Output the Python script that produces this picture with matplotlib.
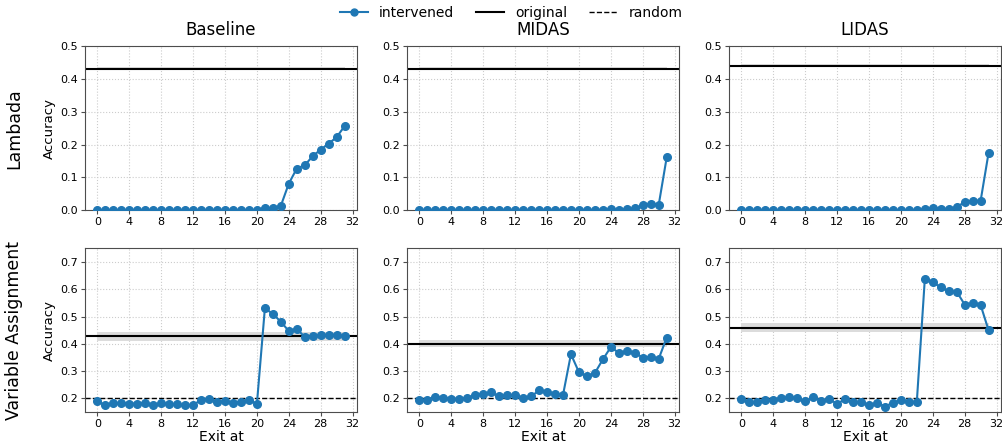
import matplotlib
matplotlib.use("Agg")
import matplotlib.pyplot as plt
import numpy as np

# exit layers 0..31
layers = np.arange(32)

methods = ["Baseline", "MIDAS", "LIDAS"]
tasks = ["Lambada", "Variable Assignment"]

# Lambada accuracy when exiting at each layer
lambada_baseline = [0, 0, 0, 0, 0, 0, 0, 0, 0, 0, 0, 0, 0, 0, 0, 0,
                    0, 0, 0, 0, 0, 0.007, 0.006, 0.013, 0.081, 0.127, 0.137, 0.165,
                    0.185, 0.203, 0.223, 0.257]
lambada_midas = [0, 0, 0, 0, 0, 0, 0, 0, 0, 0, 0, 0, 0, 0, 0, 0,
                 0, 0, 0, 0, 0, 0, 0, 0.001, 0.002, 0.001, 0.002, 0.005,
                 0.015, 0.019, 0.016, 0.161]
lambada_lidas = [0, 0, 0, 0, 0, 0, 0, 0, 0, 0, 0, 0, 0, 0, 0, 0,
                 0, 0, 0, 0, 0, 0, 0, 0.002, 0.007, 0.004, 0.004, 0.009,
                 0.025, 0.028, 0.029, 0.176]

# Variable assignment accuracy when exiting at each layer
varassign_baseline = [0.190, 0.174, 0.182, 0.183, 0.181, 0.181, 0.183, 0.174,
                      0.183, 0.179, 0.178, 0.174, 0.175, 0.195, 0.198, 0.187,
                      0.189, 0.184, 0.188, 0.195, 0.179, 0.530, 0.510, 0.481,
                      0.447, 0.455, 0.425, 0.427, 0.432, 0.434, 0.433, 0.428]
varassign_midas = [0.193, 0.195, 0.206, 0.201, 0.199, 0.197, 0.202, 0.213,
                   0.216, 0.222, 0.207, 0.213, 0.212, 0.200, 0.207, 0.229,
                   0.224, 0.216, 0.212, 0.362, 0.296, 0.281, 0.293, 0.343,
                   0.388, 0.367, 0.373, 0.368, 0.349, 0.353, 0.345, 0.423]
varassign_lidas = [0.196, 0.187, 0.187, 0.194, 0.194, 0.201, 0.204, 0.201,
                   0.189, 0.204, 0.192, 0.196, 0.181, 0.196, 0.187, 0.188,
                   0.174, 0.184, 0.170, 0.184, 0.194, 0.188, 0.188, 0.637,
                   0.625, 0.608, 0.592, 0.591, 0.544, 0.548, 0.542, 0.449]

# full-model accuracy (mean, std) and random baseline
original_lambada = [0.432, 0.432, 0.441]
original_lambada_std = [0.005, 0.005, 0.004]
original_varassign = [0.428, 0.401, 0.459]
original_varassign_std = [0.016, 0.014, 0.017]
random_varassign = 0.2

intervened = [[lambada_baseline, lambada_midas, lambada_lidas],
              [varassign_baseline, varassign_midas, varassign_lidas]]
original = [original_lambada, original_varassign]
original_std = [original_lambada_std, original_varassign_std]

fig = plt.figure(figsize=(10.02, 4.47), dpi=100)

lefts = [0.0848, 0.4062, 0.7275]
bottoms = [0.530, 0.0783]
w, h = 0.2715, 0.366
blue = "#1f77b4"

for r in range(2):
    for c in range(3):
        ax = fig.add_axes([lefts[c], bottoms[r], w, h])
        y = np.array(intervened[r][c])
        orig = original[r][c]
        sd = original_std[r][c]

        ax.fill_between(layers, orig - sd, orig + sd, color="#dcdcdc", lw=0, zorder=1)
        ax.axhline(orig, color="black", lw=1.5, zorder=2)
        if r == 1:
            ax.axhline(random_varassign, color="black", ls="--", lw=1, zorder=2)
        ax.plot(layers, y, "-o", color=blue, lw=1.5, ms=5.5, zorder=3)

        ax.set_xticks(np.arange(0, 33, 4))
        if r == 0:
            ax.set_ylim(0, 0.5)
            ax.set_yticks(np.arange(0, 0.51, 0.1))
            ax.set_title(methods[c], fontsize=12, pad=8)
        else:
            ax.set_ylim(0.15, 0.75)
            ax.set_yticks(np.arange(0.2, 0.71, 0.1))
            ax.set_xlabel("Exit at", fontsize=10, labelpad=1)
        ax.yaxis.set_major_formatter(matplotlib.ticker.FormatStrFormatter("%.1f"))
        ax.grid(True, ls=":", color="#cccccc", lw=0.8)
        ax.set_axisbelow(True)
        ax.tick_params(labelsize=8, length=3, color="0.3", pad=2)
        for s in ax.spines.values():
            s.set_color("0.3")
        if c == 0:
            ax.set_ylabel("Accuracy", fontsize=9.5, labelpad=3)

# row labels
fig.text(0.014, bottoms[0] + h / 2, tasks[0], rotation=90, ha="center", va="center", fontsize=12.5)
fig.text(0.014, bottoms[1] + h / 2, tasks[1], rotation=90, ha="center", va="center", fontsize=12.5)

handles = [
    plt.Line2D([], [], color=blue, marker="o", lw=1.5, ms=5),
    plt.Line2D([], [], color="black", lw=1.5),
    plt.Line2D([], [], color="black", ls="--", lw=1),
]
fig.legend(handles, ["intervened", "original", "random"], loc="upper center",
           bbox_to_anchor=(0.51, 1.015), ncol=3, frameon=False, fontsize=10,
           columnspacing=1.6, handlelength=2.0)

fig.savefig("out.png", dpi=100)
